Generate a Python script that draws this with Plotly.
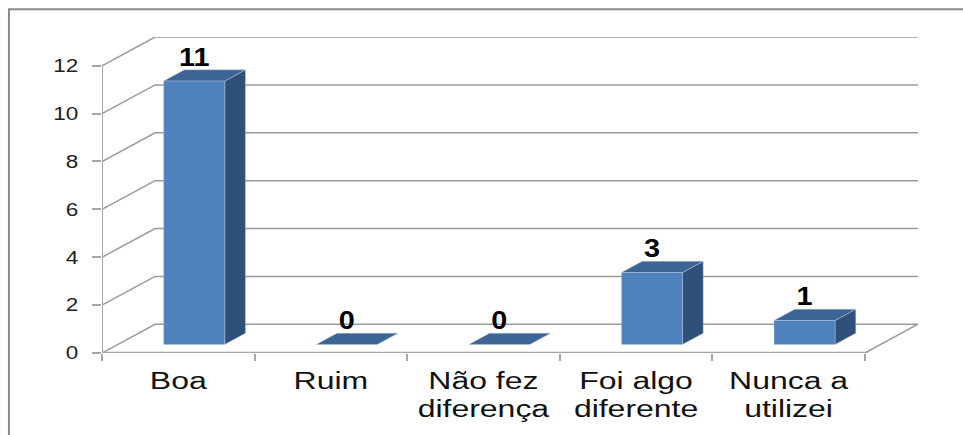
import plotly.graph_objects as go

categories = ["Boa", "Ruim", "Não fez<br>diferença", "Foi algo<br>diferente", "Nunca a<br>utilizei"]
values = [11, 0, 0, 3, 1]
y_ticks = [0, 2, 4, 6, 8, 10, 12]

WIDTH, HEIGHT = 963, 435
LEFT, RIGHT, TOP, BOTTOM = 102, 917.7, 36.7, 352.7

# oblique projection of the chart box, in axis units
DEPTH_X = 0.348
DEPTH_Y = 1.2
BAR_WIDTH = 0.4
BAR_FRONT = 0.30   # fraction of box depth in front of each bar
BAR_DEPTH = 0.39   # fraction of box depth taken by each bar
LABEL_DROP = 0.1   # value labels tuck slightly towards the bar top

GRID = "#9a9a9a"
AXIS = "#a6a6a6"
FACE = "#4f81bd"
TOP_FACE = "#3c6494"
SIDE_FACE = "#2f5078"
EDGE = "rgba(185,205,229,0.7)"
FONT = "Liberation Sans"

x_lo, x_hi = -0.5, len(categories) - 0.5
centers = list(range(len(categories)))
boundaries = [i - 0.5 for i in range(len(categories) + 1)]

fig = go.Figure()


def line(xs, ys, color, width):
    fig.add_trace(go.Scatter(x=xs, y=ys, mode="lines", hoverinfo="skip",
                             line=dict(color=color, width=width)))


def polygon(xs, ys, color):
    fig.add_trace(go.Scatter(x=xs, y=ys, mode="lines", fill="toself", fillcolor=color,
                             hoverinfo="skip", line=dict(color=EDGE, width=0.6)))


# gridlines wrap from the left wall onto the back wall
for v in y_ticks:
    line([x_lo, x_lo + DEPTH_X, x_hi + DEPTH_X],
         [v, v + DEPTH_Y, v + DEPTH_Y], GRID, 1.5)

# floor edge and front axis lines
line([x_hi, x_hi + DEPTH_X], [0, DEPTH_Y], GRID, 1.5)
line([x_lo, x_lo], [0, y_ticks[-1]], AXIS, 2)
line([x_lo, x_hi], [0, 0], AXIS, 2.5)

# each bar: side, top, then front face
for c, v in zip(centers, values):
    x0 = c - BAR_WIDTH / 2 + BAR_FRONT * DEPTH_X
    x1 = x0 + BAR_WIDTH
    y0 = BAR_FRONT * DEPTH_Y
    y1 = y0 + v
    dx = BAR_DEPTH * DEPTH_X
    dy = BAR_DEPTH * DEPTH_Y
    if v > 0:
        polygon([x1, x1 + dx, x1 + dx, x1, x1], [y0, y0 + dy, y1 + dy, y1, y0], SIDE_FACE)
    polygon([x0, x1, x1 + dx, x0 + dx, x0], [y1, y1, y1 + dy, y1 + dy, y1], TOP_FACE)
    if v > 0:
        polygon([x0, x1, x1, x0, x0], [y0, y0, y1, y1, y0], FACE)

# value labels sit just above the back edge of each bar top
fig.add_trace(go.Scatter(
    x=[c + BAR_FRONT * DEPTH_X for c in centers],
    y=[v + (BAR_FRONT + BAR_DEPTH) * DEPTH_Y - LABEL_DROP for v in values],
    mode="text",
    text=[str(v) for v in values],
    textposition="top center",
    textfont=dict(family=FONT, size=25, color="#000000", weight="bold"),
    hoverinfo="skip",
    cliponaxis=False,
))

fig.update_layout(
    width=WIDTH,
    height=HEIGHT,
    autosize=False,
    showlegend=False,
    paper_bgcolor="white",
    plot_bgcolor="white",
    margin=dict(l=LEFT, r=WIDTH - RIGHT, t=TOP, b=HEIGHT - BOTTOM, pad=0),
    xaxis=dict(
        automargin=False,
        range=[x_lo, x_hi + DEPTH_X],
        tickmode="array",
        tickvals=centers,
        ticktext=categories,
        ticks="",
        ticklabelstandoff=12,
        showgrid=False,
        zeroline=False,
        showline=False,
        tickangle=0,
        tickfont=dict(family=FONT, size=23, color="#111111"),
        minor=dict(tickmode="array", tickvals=boundaries, ticks="outside",
                   ticklen=7, tickwidth=2, tickcolor=AXIS, showgrid=False),
    ),
    yaxis=dict(
        automargin=False,
        range=[0, y_ticks[-1] + DEPTH_Y],
        tickmode="array",
        tickvals=y_ticks,
        ticks="outside",
        ticklen=9,
        tickwidth=2,
        tickcolor=AXIS,
        ticklabelstandoff=10,
        showgrid=False,
        zeroline=False,
        showline=False,
        tickfont=dict(family=FONT, size=18, color="#222222"),
    ),
    # outer chart frame, running off the top-right and bottom-left of the page
    shapes=[dict(
        type="path", xref="paper", yref="paper",
        path="M {} {} L {} {} L {} {}".format(
            (9 - LEFT) / (RIGHT - LEFT), (BOTTOM - HEIGHT) / (BOTTOM - TOP),
            (9 - LEFT) / (RIGHT - LEFT), (BOTTOM - 9) / (BOTTOM - TOP),
            (WIDTH - LEFT) / (RIGHT - LEFT), (BOTTOM - 9) / (BOTTOM - TOP)),
        line=dict(color="#8a8a8a", width=2),
    )],
)

# The chart's lettering is set wide: stretch each label horizontally and tighten
# the line spacing of the two-line category names.
WIDEN_TEXT = """
function widen(selector, factor, anchorRight) {
  document.querySelectorAll(selector).forEach(function (t) {
    var b = t.getBBox();
    var cx = anchorRight ? b.x + b.width : b.x + b.width / 2;
    var prev = t.getAttribute('transform') || '';
    t.setAttribute('transform',
      prev + ' translate(' + cx + ',0) scale(' + factor + ',1) translate(' + (-cx) + ',0)');
  });
}
document.querySelectorAll('.xtick text tspan.line').forEach(function (s, i) {
  if (s.previousElementSibling) { s.setAttribute('dy', '28px'); }
});
widen('.xtick text', 1.39, false);
widen('.ytick text', 1.25, true);
widen('.textpoint text', 1.15, false);
"""

fig.write_html("out.html", config={"displayModeBar": False}, post_script=WIDEN_TEXT)
